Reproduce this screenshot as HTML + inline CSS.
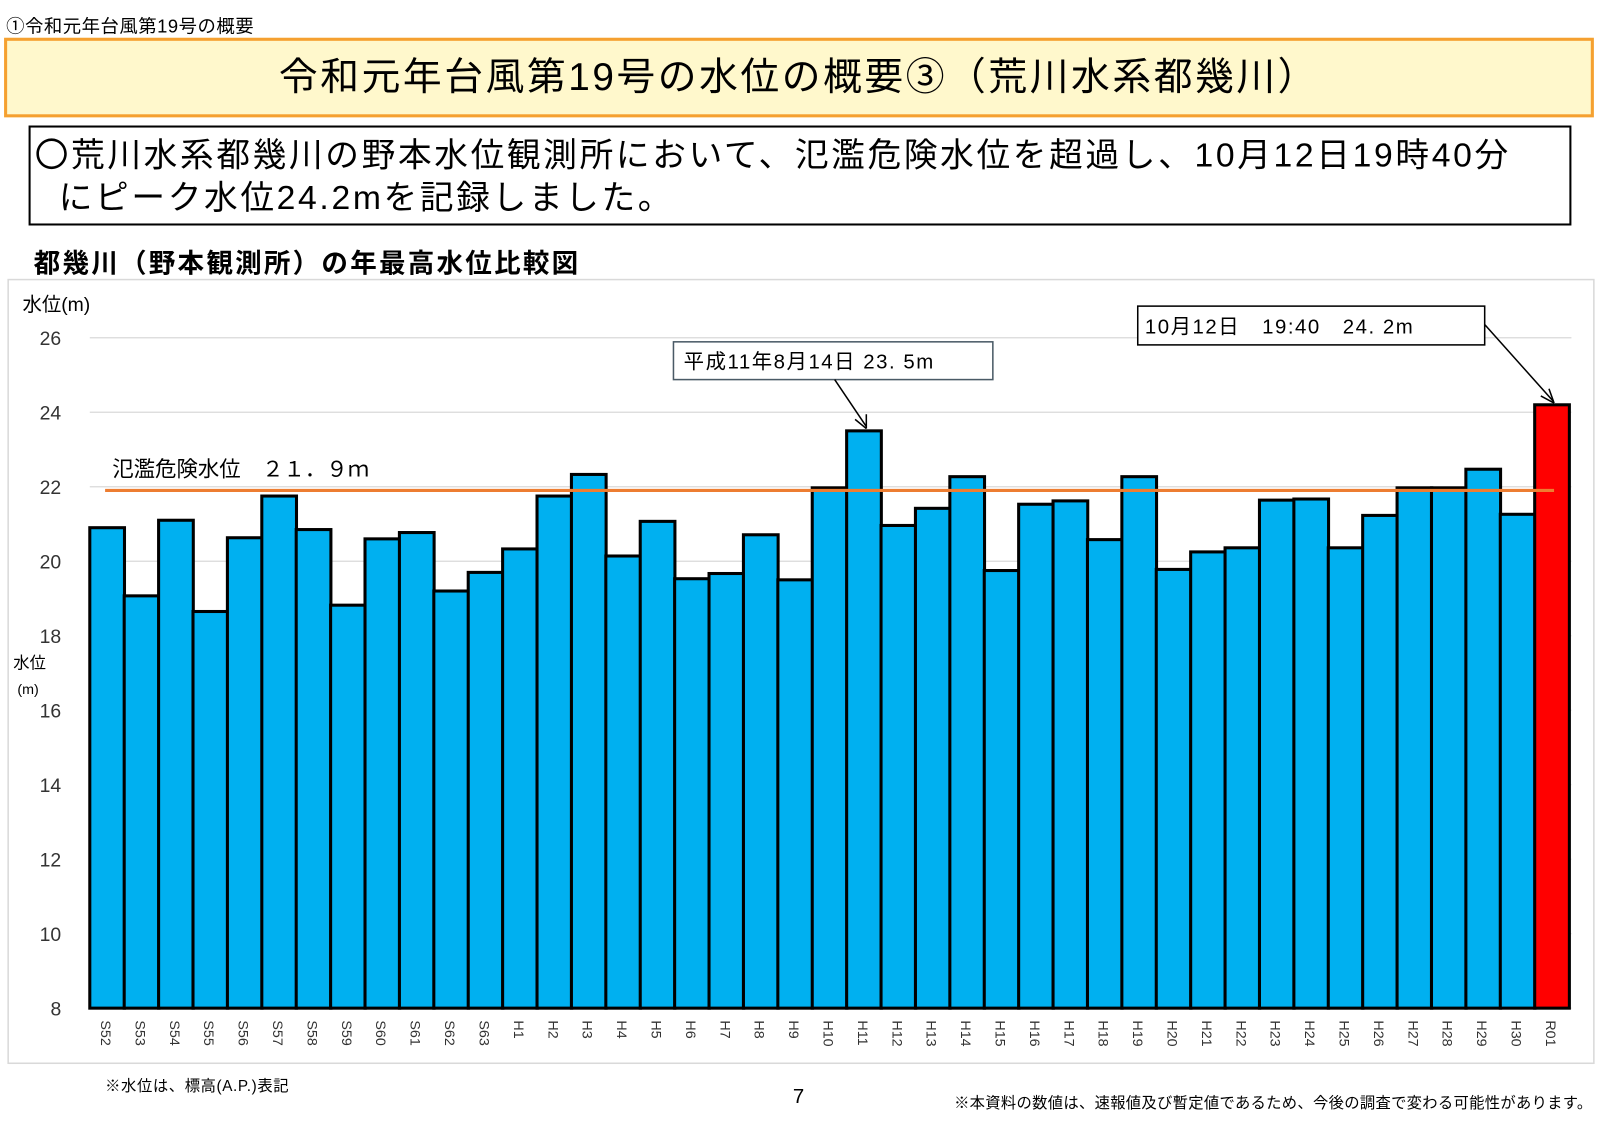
<!DOCTYPE html>
<html><head><meta charset="utf-8"><style>
body{margin:0;width:1600px;height:1131px;background:#fff;position:relative;overflow:hidden;font-family:"Liberation Sans","Noto Sans CJK JP",sans-serif;color:#000}
#wrap{position:absolute;left:0;top:0;width:1568px;height:1109px;transform:scale(1.0204);transform-origin:0 0}
.abs{position:absolute;white-space:nowrap}
</style></head><body>
<div id="wrap">
<div class="abs" style="left:6px;top:12px;font-size:18px;letter-spacing:0.5px">①令和元年台風第19号の概要</div>
<div class="abs" style="left:4px;top:37px;width:1552px;height:72px;border:3px solid #f5a030;background:#fff8cc;text-align:center;line-height:72px;font-size:38px;letter-spacing:2.5px">令和元年台風第19号の水位の概要③（荒川水系都幾川）</div>
<div class="abs" style="left:28px;top:123px;width:1512px;border:2px solid #000;font-size:33px;line-height:42px;padding:6px 0 0 4px;box-sizing:border-box;height:98px;letter-spacing:2.6px">〇荒川水系都幾川の野本水位観測所において、氾濫危険水位を超過し、10月12日19時40分<br>&nbsp;&nbsp;にピーク水位24.2mを記録しました。</div>
<div class="abs" style="left:33px;top:238px;font-size:26px;font-weight:bold;letter-spacing:2.2px">都幾川（野本観測所）の年最高水位比較図</div>
<svg class="abs" style="left:0;top:0" width="1568" height="1109">
<rect x="8" y="274" width="1554" height="768" fill="none" stroke="#d9d9d9" stroke-width="1.5"/>
<g id="grid"></g><g id="bars"></g><g id="xl"></g>
<text x="22" y="305" font-size="19">水位(m)</text>
<text x="13" y="655" font-size="16">水位</text>
<text x="17" y="680" font-size="14">(m)</text>
<line id="danger" x1="103" x2="1523" stroke="#ed7d31" stroke-width="3"/>
<text x="110" y="467" font-size="21">氾濫危険水位　２１．９ｍ</text>
<rect x="660" y="335" width="313" height="37" fill="#fff" stroke="#4a5a66" stroke-width="1.5"/>
<text x="670" y="361" font-size="20" letter-spacing="1.5">平成11年8月14日  23. 5m</text>
<line x1="818" y1="372" x2="849" y2="418" stroke="#000" stroke-width="1.5"/>
<path d="M849 420 L838 411 M849 420 L849 406" stroke="#000" stroke-width="1.5" fill="none"/>
<rect x="1115" y="300" width="340" height="38" fill="#fff" stroke="#000" stroke-width="1.5"/>
<text x="1122" y="327" font-size="20" letter-spacing="1.5">10月12日　19:40　24. 2m</text>
<line x1="1455" y1="318" x2="1522" y2="393" stroke="#000" stroke-width="1.5"/>
<path d="M1523 395 L1510 388 M1523 395 L1518 381" stroke="#000" stroke-width="1.5" fill="none"/>
</svg>
<div class="abs" style="left:103px;top:1053px;font-size:15px;letter-spacing:0.6px">※水位は、標高(A.P.)表記</div>
<div class="abs" style="left:777px;top:1064px;font-size:20px">7</div>
<div class="abs" style="left:935px;top:1070px;font-size:15px;letter-spacing:0.3px">※本資料の数値は、速報値及び暫定値であるため、今後の調査で変わる可能性があります。</div>
</div>
<script>
const categories=["S52","S53","S54","S55","S56","S57","S58","S59","S60","S61","S62","S63","H1","H2","H3","H4","H5","H6","H7","H8","H9","H10","H11","H12","H13","H14","H15","H16","H17","H18","H19","H20","H21","H22","H23","H24","H25","H26","H27","H28","H29","H30","R01"];
const values=[20.9,19.07,21.1,18.65,20.63,21.75,20.85,18.82,20.6,20.77,19.2,19.7,20.33,21.75,22.33,20.14,21.07,19.53,19.67,20.71,19.5,21.97,23.5,20.96,21.42,22.27,19.75,21.53,21.62,20.58,22.27,19.78,20.25,20.36,21.64,21.67,20.36,21.23,21.97,21.97,22.47,21.26,24.2];
const yTicks=[8,10,12,14,16,18,20,22,24,26];
const dangerLevel=21.9;
const NS="http://www.w3.org/2000/svg";
const y=v=>988-(v-8)*(988-331)/18;
const x0=88,step=(1504-88)/42,bw=34;
const x=i=>x0+i*step;
const grid=document.getElementById('grid'),bars=document.getElementById('bars'),xl=document.getElementById('xl');
yTicks.forEach(t=>{
 const l=document.createElementNS(NS,'line');
 l.setAttribute('x1',88);l.setAttribute('x2',1540);l.setAttribute('y1',y(t));l.setAttribute('y2',y(t));
 l.setAttribute('stroke','#d9d9d9');l.setAttribute('stroke-width','1.2');
 
 
 grid.appendChild(l);
 const tx=document.createElementNS(NS,'text');
 tx.setAttribute('x',60);tx.setAttribute('y',y(t)+7);tx.setAttribute('text-anchor','end');tx.setAttribute('font-size','19');tx.setAttribute('fill','#333');
 tx.textContent=t;
 
 
 grid.appendChild(tx);
});
values.forEach((v,i)=>{
 const r=document.createElementNS(NS,'rect');
 r.setAttribute('x',x(i));r.setAttribute('y',y(v));r.setAttribute('width',bw);r.setAttribute('height',y(8)-y(v));
 r.setAttribute('fill',categories[i]==='R01'?'#ff0000':'#00b0f0');r.setAttribute('stroke','#000');r.setAttribute('stroke-width','3');
 
 
 bars.appendChild(r);
 const tx=document.createElementNS(NS,'text');
 const cx=x(i)+bw/2-6,cy=1000;
 tx.setAttribute('x',cx);tx.setAttribute('y',cy);tx.setAttribute('font-size','14');tx.setAttribute('fill','#333');
 tx.setAttribute('transform','rotate(90 '+cx+' '+cy+')');
 tx.textContent=categories[i];
 
 
 xl.appendChild(tx);
});
const d=document.getElementById('danger');d.setAttribute('y1',y(dangerLevel));d.setAttribute('y2',y(dangerLevel));
</script>
</body></html>
